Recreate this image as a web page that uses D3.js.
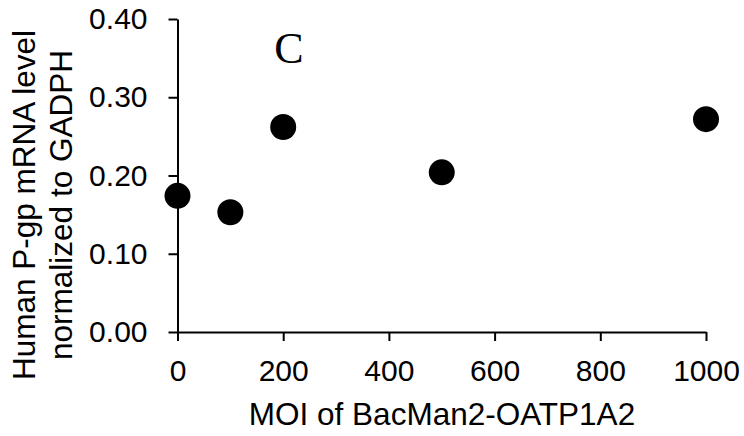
<!DOCTYPE html>
<html>
<head>
<meta charset="utf-8">
<script src="https://cdn.jsdelivr.net/npm/d3@7"></script>
<style>
    html, body { margin: 0; padding: 0; background: #fff; }
    svg { display: block; font-family: "Liberation Sans", Arial, sans-serif; }
</style>
</head>
<body>
<svg id="chart" width="744" height="436"></svg>
<script>
// MOI values and measured P-gp levels
const moi = [0, 100, 200, 500, 1000];
const pgpLevel = [0.174, 0.153, 0.262, 0.204, 0.272];

const xTicks = [0, 200, 400, 600, 800, 1000];
const yTicks = [0, 0.1, 0.2, 0.3, 0.4];

const xTitle = 'MOI of BacMan2-OATP1A2';
const yTitleLines = ['Human P-gp mRNA level', 'normalized to GADPH'];
const panelLabel = 'C';

const width = 744;
const height = 436;
const margin = { top: 19, right: 38, bottom: 104, left: 177.5 };

const svg = d3.select('#chart');

const x = d3.scaleLinear()
    .domain([0, 1000])
    .range([margin.left, width - margin.right]);
const y = d3.scaleLinear()
    .domain([0, 0.4])
    .range([height - margin.bottom, margin.top]);

// Axes
const xAxis = svg.append('g')
    .attr('transform', `translate(0,${ y(0) })`)
    .call(d3.axisBottom(x)
        .tickValues(xTicks)
        .tickSize(9)
        .tickSizeOuter(0)
        .tickPadding(19)
        .tickFormat(d3.format('d')));

const yAxis = svg.append('g')
    .attr('transform', `translate(${ x(0) },0)`)
    .call(d3.axisLeft(y)
        .tickValues(yTicks)
        .tickSize(9)
        .tickSizeOuter(0)
        .tickPadding(21)
        .tickFormat(d3.format('.2f')));

for (const g of [xAxis, yAxis]) {
    g.select('.domain').attr('stroke', '#000').attr('stroke-width', 2);
    g.selectAll('.tick line').attr('stroke', '#000').attr('stroke-width', 2);
    g.selectAll('.tick text')
        .attr('fill', '#000')
        .style('font-size', '30px')
        .style('font-family', '"Liberation Sans", Arial, sans-serif');
}

// Points
svg.append('g')
    .selectAll('circle')
    .data(moi.map((m, i) => ({ m, v: pgpLevel[i] })))
    .join('circle')
    .attr('cx', d => x(d.m))
    .attr('cy', d => y(d.v))
    .attr('r', 13)
    .attr('fill', '#000');

// Axis titles
svg.append('text')
    .attr('x', 442)
    .attr('y', 425)
    .attr('text-anchor', 'middle')
    .style('font-size', '31.5px')
    .text(xTitle);

const yTitle = svg.append('text')
    .attr('transform', 'translate(35,205) rotate(-90)')
    .attr('text-anchor', 'middle')
    .style('font-size', '31.5px');
yTitle.selectAll('tspan')
    .data(yTitleLines)
    .join('tspan')
    .attr('x', 0)
    .attr('dy', (d, i) => i === 0 ? 0 : 37)
    .text(d => d);

// Panel letter
svg.append('text')
    .attr('x', 289)
    .attr('y', 63)
    .attr('text-anchor', 'middle')
    .style('font-family', '"Liberation Serif", "Times New Roman", serif')
    .style('font-size', '44px')
    .text(panelLabel);
</script>
</body>
</html>
